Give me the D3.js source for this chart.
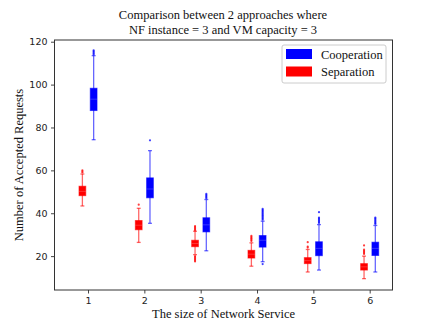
<!DOCTYPE html>
<html>
<head>
<meta charset="utf-8">
<script src="https://cdn.jsdelivr.net/npm/d3@7"></script>
<style>
  body { margin: 0; background: #fff; }
</style>
</head>
<body>
<div id="chart"></div>
<script>
// box stats: [q1, median, q3, lowWhisker, highWhisker]
const sizes = [1, 2, 3, 4, 5, 6];

const coopStats = [
  [87.9, 93.2, 98.3, 74.3, 113.5],
  [47.2, 51.3, 56.5, 35.3, 69.2],
  [31.3, 34.6, 37.9, 22.5, 46.4],
  [24.2, 27.4, 29.6, 17.4, 36.3],
  [20.2, 23.6, 26.7, 13.5, 34.7],
  [20.3, 23.6, 26.5, 12.6, 34.3]
];
const coopFliers = [
  [114, 114.5, 115, 115.5, 116],
  [74],
  [47, 47.5, 48, 48.5, 49],
  [37, 37.5, 38, 38.5, 39, 39.5, 40, 40.5, 41, 41.5, 42, 16.3],
  [35.5, 36, 36.5, 37, 37.5, 38, 40.5],
  [35, 35.5, 36, 36.5, 37, 37.5, 38]
];

const sepStats = [
  [48.2, 50.2, 52.6, 43.4, 58.3],
  [32.3, 34.4, 36.6, 26.4, 42.3],
  [24.4, 25.9, 27.4, 20.7, 31.6],
  [19.1, 20.9, 22.7, 15.3, 26.2],
  [16.5, 17.9, 19.3, 12.6, 23.1],
  [13.5, 15.0, 16.5, 9.5, 20.0]
];
const sepFliers = [
  [59, 59.5, 60],
  [44],
  [32, 32.5, 33, 33.5, 34, 20, 19.5, 19, 18.5, 18, 17.5],
  [27, 27.5, 28, 28.5, 29, 29.5],
  [24, 24.5, 26.5],
  [21, 21.5, 22, 22.5, 23, 25]
];

const yTicks = [20, 40, 60, 80, 100, 120];

const series = [
  {name: "Cooperation", color: "#0000ff", offset: 0.1, stats: coopStats, fliers: coopFliers},
  {name: "Separation", color: "#ff0000", offset: -0.1, stats: sepStats, fliers: sepFliers}
];

const W = 436, H = 327;
const M = {left: 54.5, right: 392.5, top: 40, bottom: 290};

const svg = d3.select("#chart").append("svg")
  .attr("width", W)
  .attr("height", H);

const x = d3.scaleLinear().domain([0.405, 6.405]).range([M.left, M.right]);
const y = d3.scaleLinear().domain([4.2, 120.8]).range([M.bottom, M.top]);

const serif = "'Liberation Serif', 'DejaVu Serif', serif";
const sans = "'DejaVu Sans', sans-serif";

//axes
const xAxis = svg.append("g")
  .attr("transform", `translate(0,${M.bottom})`)
  .call(d3.axisBottom(x).tickValues(sizes).tickSize(3.5).tickPadding(3.5).tickFormat(d3.format("d")));
const yAxis = svg.append("g")
  .attr("transform", `translate(${M.left},0)`)
  .call(d3.axisLeft(y).tickValues(yTicks).tickSize(3.5).tickPadding(3.5));

[xAxis, yAxis].forEach(a => {
  a.select(".domain").remove();
  a.selectAll("line").attr("stroke", "#444");
  a.selectAll("text").attr("font-family", sans).attr("font-size", "9.5px").attr("fill", "#222");
});

//frame
svg.append("rect")
  .attr("x", M.left).attr("y", M.top)
  .attr("width", M.right - M.left).attr("height", M.bottom - M.top)
  .attr("fill", "none").attr("stroke", "#333").attr("stroke-width", 1);

//boxes
const bw = 0.12, cw = 0.07;
series.forEach(s => {
  const g = svg.append("g");
  s.stats.forEach((st, i) => {
    const [q1, med, q3, lo, hi] = st;
    const cx = x(sizes[i] + s.offset);
    const half = x(bw / 2) - x(0);
    const capHalf = x(cw / 2) - x(0);

    g.append("line")
      .attr("x1", cx).attr("x2", cx).attr("y1", y(hi)).attr("y2", y(lo))
      .attr("stroke", s.color).attr("stroke-opacity", 0.6).attr("stroke-width", 1.3);
    [lo, hi].forEach(v => g.append("line")
      .attr("x1", cx - capHalf).attr("x2", cx + capHalf).attr("y1", y(v)).attr("y2", y(v))
      .attr("stroke", s.color).attr("stroke-opacity", 0.6).attr("stroke-width", 1.3));

    g.append("rect")
      .attr("x", cx - half).attr("width", half * 2)
      .attr("y", y(q3)).attr("height", y(q1) - y(q3))
      .attr("fill", s.color)
      .attr("stroke", s.color).attr("stroke-opacity", 0.6).attr("stroke-width", 1);
    g.append("line")
      .attr("x1", cx - half).attr("x2", cx + half).attr("y1", y(med)).attr("y2", y(med))
      .attr("stroke", "#fff").attr("stroke-opacity", 0.25).attr("stroke-width", 0.8);

    g.selectAll(null).data(s.fliers[i]).join("circle")
      .attr("cx", cx).attr("cy", d => y(d)).attr("r", 1.1)
      .attr("fill", s.color).attr("fill-opacity", 0.75);
  });
});

//title
const title = svg.append("text")
  .attr("text-anchor", "middle")
  .attr("font-family", serif).attr("font-size", "12.5px").attr("fill", "#111");
title.append("tspan").attr("x", 223).attr("y", 19).text("Comparison between 2 approaches where");
title.append("tspan").attr("x", 223).attr("y", 34).text("NF instance = 3 and VM capacity = 3");

//axis labels
svg.append("text")
  .attr("x", (M.left + M.right) / 2).attr("y", 318)
  .attr("text-anchor", "middle")
  .attr("font-family", serif).attr("font-size", "12.5px").attr("fill", "#111")
  .text("The size of Network Service");

svg.append("text")
  .attr("transform", `translate(23,${(M.top + M.bottom) / 2}) rotate(-90)`)
  .attr("text-anchor", "middle")
  .attr("font-family", serif).attr("font-size", "12.5px").attr("fill", "#111")
  .text("Number of Accepted Requests");

//legend
const lg = svg.append("g").attr("transform", "translate(282,45)");
lg.append("rect")
  .attr("width", 104).attr("height", 38).attr("rx", 2)
  .attr("fill", "#fff").attr("stroke", "#ccc");
series.forEach((s, i) => {
  lg.append("rect")
    .attr("x", 4).attr("y", 4 + i * 17.5)
    .attr("width", 26).attr("height", 10)
    .attr("fill", s.color);
  lg.append("text")
    .attr("x", 39).attr("y", 13.5 + i * 17.5)
    .attr("font-family", serif).attr("font-size", "12.5px").attr("fill", "#111")
    .text(s.name);
});
</script>
</body>
</html>
